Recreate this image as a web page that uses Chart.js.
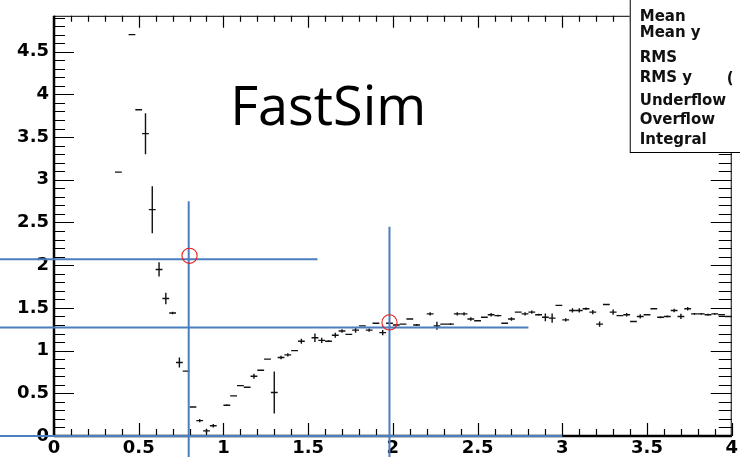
<!DOCTYPE html>
<html><head><meta charset="utf-8">
<script src="https://cdn.jsdelivr.net/npm/chart.js@4/dist/chart.umd.min.js"></script>
<style>html,body{margin:0;padding:0;background:#fff;overflow:hidden}#wrap{width:740px;height:457px;position:relative}canvas{display:block}</style>
</head><body><div id="wrap"><canvas id="c" width="740" height="457"></canvas></div>
<script>
// ---- data (profile bins: centre, mean y, error) ----
const binCenters = [0.38,0.46,0.50,0.54,0.58,0.62,0.66,0.70,0.74,0.78,0.82,0.86,0.90,0.94,
  1.02,1.06,1.10,1.14,1.18,1.22,1.26,1.30,1.34,1.38,1.42,1.46,1.54,1.58,1.62,1.66,1.70,1.74,1.78,1.82,1.86,1.90,1.94,1.98,
  2.02,2.06,2.10,2.14,2.22,2.26,2.30,2.34,2.38,2.42,2.46,2.50,2.54,2.58,2.62,2.66,2.70,2.74,2.78,2.82,2.86,2.90,2.94,2.98,
  3.02,3.06,3.10,3.14,3.18,3.22,3.26,3.30,3.34,3.38,3.42,3.46,3.50,3.54,3.58,3.62,3.66,3.70,3.74,3.78,3.82,3.86,3.90,3.94,3.98];
const meanY = [3.09,4.70,3.82,3.54,2.65,1.95,1.61,1.44,0.86,0.76,0.34,0.18,0.06,0.12,
  0.36,0.47,0.59,0.57,0.70,0.77,0.90,0.51,0.92,0.95,1.00,1.11,1.15,1.12,1.11,1.18,1.23,1.19,1.24,1.29,1.24,1.32,1.21,1.32,
  1.30,1.31,1.37,1.30,1.43,1.29,1.31,1.31,1.43,1.43,1.37,1.35,1.39,1.42,1.41,1.32,1.37,1.45,1.43,1.45,1.42,1.39,1.38,1.53,
  1.36,1.47,1.47,1.49,1.45,1.31,1.54,1.45,1.41,1.42,1.34,1.40,1.42,1.49,1.39,1.40,1.47,1.40,1.49,1.43,1.43,1.42,1.43,1.42,1.40];
const errY = [0,0,0,0.24,0.275,0.083,0.066,0.015,0.058,0,0,0.02,0.026,0.02,
  0.01,0,0,0,0.03,0,0,0.246,0.02,0.02,0,0.03,0.05,0.03,0.01,0.03,0.02,0,0.03,0,0.02,0,0.03,0,
  0,0,0,0.01,0.02,0.047,0,0.01,0.02,0.02,0.02,0,0,0.02,0.01,0,0.02,0,0.02,0.02,0.01,0.045,0.055,0,
  0.02,0.025,0.025,0.015,0.025,0.03,0,0.03,0,0.02,0,0.025,0,0,0.01,0.01,0.02,0.03,0.02,0.01,0.01,0.01,0.01,0,0];

const xTickLabels = [0,0.5,1,1.5,2,2.5,3,3.5,4];
const yTickLabels = [0,0.5,1,1.5,2,2.5,3,3.5,4,4.5];

// guide lines / markers drawn on the slide (data units)
const guideH = [{y:2.07,from:-0.32,to:1.555},{y:1.27,from:-0.32,to:2.80},{y:0,from:-0.32,to:3.0}];
const guideV = [{x:0.795,from:-0.26,to:2.75},{x:1.98,from:-0.26,to:2.45}];
const circles = [{x:0.80,y:2.11},{x:1.98,y:1.33}];
const statsLabels = ['Mean','Mean y','RMS','RMS y','Underflow','Overflow','Integral'];
const titleText = 'FastSim';

const BLUE = '#4a7ebf';
const MARK = '#111';

const framePlugin = {
  id:'frame',
  beforeDatasetsDraw(chart){
    const ctx = chart.ctx, a = chart.chartArea, xs = chart.scales.x, ys = chart.scales.y;
    ctx.save();
    ctx.strokeStyle = '#000';
    ctx.lineWidth = 1;
    ctx.beginPath();
    ctx.moveTo(a.left, a.top+0.5); ctx.lineTo(a.right, a.top+0.5);
    ctx.moveTo(a.right-0.5, a.top); ctx.lineTo(a.right-0.5, a.bottom);
    ctx.stroke();
    ctx.lineWidth = 1.2;
    ctx.beginPath();
    for (let i=0;i<=40;i++){
      const v = i/10, px = Math.round(xs.getPixelForValue(v))+0.5, major = (i%5===0);
      ctx.moveTo(px, a.bottom); ctx.lineTo(px, a.bottom-(major?13:7));
      ctx.moveTo(px, a.top); ctx.lineTo(px, a.top+(major?12:6));
    }
    for (let i=0;i<=49;i++){
      const v = i/10, py = Math.round(ys.getPixelForValue(v))+0.5, major = (i%5===0);
      ctx.moveTo(a.left, py); ctx.lineTo(a.left+(major?20:11), py);
      ctx.moveTo(a.right, py); ctx.lineTo(a.right-(major?21:13), py);
    }
    ctx.stroke();
    ctx.lineWidth = 2.5;
    ctx.beginPath();
    ctx.moveTo(a.left, a.top); ctx.lineTo(a.left, a.bottom+1);
    ctx.moveTo(a.left, a.bottom); ctx.lineTo(a.right, a.bottom);
    ctx.stroke();
    ctx.restore();
  },
  afterDatasetsDraw(chart){
    const ctx = chart.ctx, xs = chart.scales.x, ys = chart.scales.y;
    ctx.save();
    ctx.strokeStyle = MARK; ctx.lineWidth = 1.4;
    ctx.beginPath();
    binCenters.forEach((bx,i)=>{
      if (errY[i] > 0){
        const px = xs.getPixelForValue(bx);
        ctx.moveTo(px, ys.getPixelForValue(meanY[i]-errY[i]));
        ctx.lineTo(px, ys.getPixelForValue(meanY[i]+errY[i]));
      }
    });
    ctx.stroke();
    ctx.restore();
  },
  afterDraw(chart){
    const ctx = chart.ctx, a = chart.chartArea, xs = chart.scales.x, ys = chart.scales.y;
    ctx.save();
    ctx.strokeStyle = BLUE; ctx.lineWidth = 2;
    ctx.beginPath();
    guideH.forEach(g=>{
      const py = ys.getPixelForValue(g.y);
      ctx.moveTo(xs.getPixelForValue(g.from), py); ctx.lineTo(xs.getPixelForValue(g.to), py);
    });
    guideV.forEach(g=>{
      const px = xs.getPixelForValue(g.x);
      ctx.moveTo(px, ys.getPixelForValue(g.from)); ctx.lineTo(px, ys.getPixelForValue(g.to));
    });
    ctx.stroke();
    ctx.strokeStyle = '#e8201c'; ctx.lineWidth = 1.1;
    circles.forEach(c=>{
      ctx.beginPath();
      ctx.arc(xs.getPixelForValue(c.x), ys.getPixelForValue(c.y), 7.6, 0, Math.PI*2);
      ctx.stroke();
    });
    ctx.fillStyle = '#000';
    ctx.font = '54px "Open Sans", sans-serif';
    ctx.textAlign = 'left'; ctx.textBaseline = 'alphabetic';
    ctx.fillText(titleText, xs.getPixelForValue(1.04), ys.getPixelForValue(3.64));
    const bx = a.right - 102, by = -2, bb = 152.5;
    ctx.fillStyle = '#fff';
    ctx.fillRect(bx, by, 760-bx, bb-by);
    ctx.strokeStyle = '#000'; ctx.lineWidth = 1;
    ctx.strokeRect(bx+0.5, by, 760-bx, bb-by);
    ctx.fillStyle = '#111';
    ctx.font = 'bold 15px "DejaVu Sans", sans-serif';
    const baselines = [20.7,37.3,61.7,82,105,123.7,144.3];
    statsLabels.forEach((t,i)=>ctx.fillText(t, bx+10, baselines[i]));
    ctx.fillText('(', bx+97, 82.5);
    ctx.restore();
  }
};

const points = binCenters.map((x,i)=>({x:x, y:meanY[i]}));

new Chart(document.getElementById('c'), {
  type:'scatter',
  data:{datasets:[{
    data:points, showLine:false,
    pointStyle:'line', pointRadius:3.4, pointHoverRadius:3.4,
    borderColor:MARK, backgroundColor:MARK, pointBorderWidth:1.4
  }]},
  options:{
    responsive:false, animation:false, devicePixelRatio:1,
    events:[],
    layout:{padding:{left:0,top:13,right:7,bottom:0}, autoPadding:false},
    plugins:{legend:{display:false}, tooltip:{enabled:false}, title:{display:false}},
    scales:{
      x:{type:'linear', min:0, max:4,
        grid:{display:false, drawTicks:false}, border:{display:false},
        afterBuildTicks:s=>{s.ticks = xTickLabels.map(v=>({value:v}));},
        afterFit:s=>{s.height = 21;},
        ticks:{color:'#000', padding:2, maxRotation:0, autoSkip:false,
          font:{family:'"DejaVu Sans"', size:18, weight:'bold'},
          callback:v=>String(v)}
      },
      y:{type:'linear', min:0, max:4.92,
        grid:{display:false, drawTicks:false}, border:{display:false},
        afterBuildTicks:s=>{s.ticks = yTickLabels.map(v=>({value:v}));},
        afterFit:s=>{s.width = 54;},
        ticks:{color:'#000', padding:5, autoSkip:false,
          font:{family:'"DejaVu Sans"', size:18, weight:'bold'},
          callback:v=>String(v)}
      }
    }
  },
  plugins:[framePlugin]
});
</script>
</body></html>
